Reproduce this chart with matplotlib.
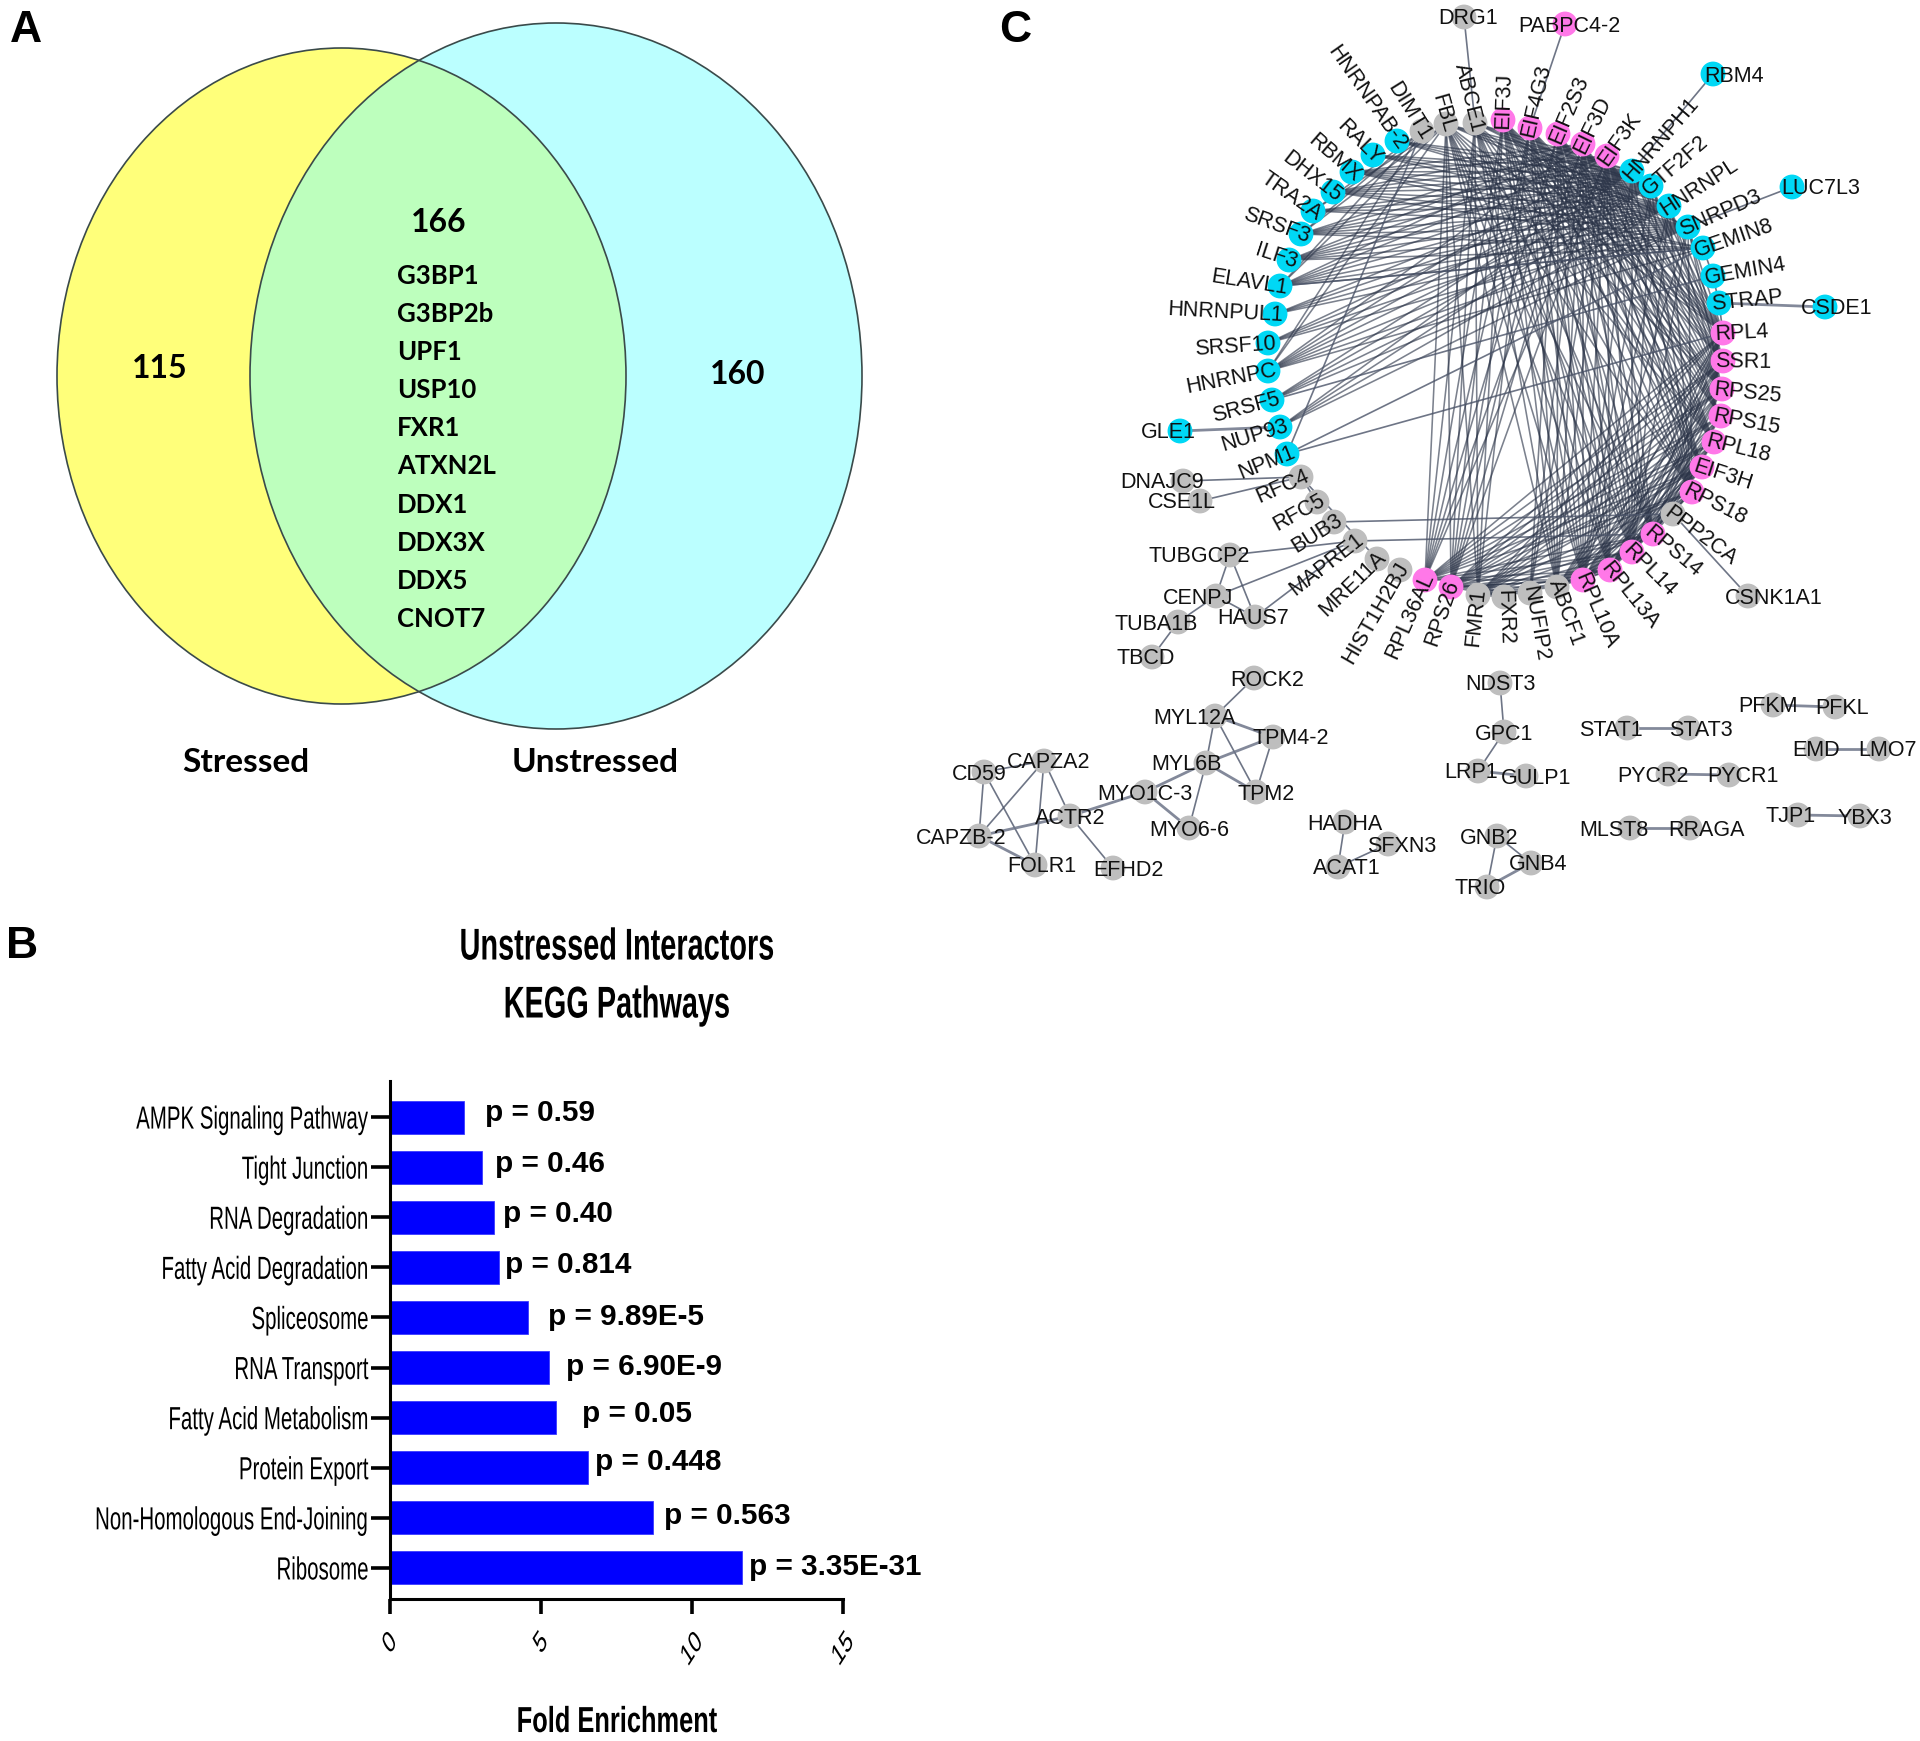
import matplotlib
matplotlib.use('Agg')
import matplotlib.pyplot as plt
import math
from matplotlib.patches import Ellipse
from matplotlib.patheffects import AbstractPathEffect
from matplotlib.transforms import Affine2D

SANS = ['Liberation Sans', 'DejaVu Sans']
VENN_FONT = ['Lato', 'DejaVu Sans']

W, H = 1920, 1741

# panel A
venn_counts = ['115', '166', '160']
venn_sets = ['Stressed', 'Unstressed']
venn_genes = ['G3BP1', 'G3BP2b', 'UPF1', 'USP10', 'FXR1', 'ATXN2L', 'DDX1', 'DDX3X', 'DDX5', 'CNOT7']

# panel B, top to bottom
pathways = ['AMPK Signaling Pathway', 'Tight Junction', 'RNA Degradation', 'Fatty Acid Degradation',
            'Spliceosome', 'RNA Transport', 'Fatty Acid Metabolism', 'Protein Export',
            'Non-Homologous End-Joining', 'Ribosome']
fold = [2.45, 3.04, 3.43, 3.60, 4.56, 5.27, 5.51, 6.57, 8.72, 11.64]
pvals = ['p = 0.59', 'p = 0.46', 'p = 0.40', 'p = 0.814', 'p = 9.89E-5',
         'p = 6.90E-9', 'p = 0.05', 'p = 0.448', 'p = 0.563', 'p = 3.35E-31']
p_label_x = [3.14, 3.47, 3.73, 3.82, 5.23, 5.82, 6.35, 6.80, 9.08, 11.90]
p_label_lift = [0.09, 0.066, 0.066, 0.04, 0.0, 0.02, 0.066, 0.115, 0.04, 0.02]

# panel C, node positions (pixels)
ring = {
    'ABCE1': (1475, 123), 'EIF3J': (1503, 120), 'EIF4G3': (1530, 128), 'EIF2S3': (1558, 134),
    'EIF3D': (1583, 144), 'EIF3K': (1607, 156), 'HNRNPH1': (1632, 171), 'GTF2F2': (1651, 186),
    'HNRNPL': (1669, 206), 'SNRPD3': (1688, 227), 'GEMIN8': (1703, 248), 'GEMIN4': (1713, 276),
    'STRAP': (1719, 303), 'RPL4': (1723, 333), 'SSR1': (1723, 361), 'RPS25': (1722, 389),
    'RPS15': (1721, 416), 'RPL18': (1714, 442), 'EIF3H': (1702, 467), 'RPS18': (1692, 492),
    'PPP2CA': (1673, 514), 'RPS14': (1653, 534), 'RPL14': (1632, 552), 'RPL13A': (1610, 570),
    'RPL10A': (1583, 580), 'ABCF1': (1557, 587), 'NUFIP2': (1530, 593), 'FXR2': (1504, 597),
    'FMR1': (1478, 595), 'RPS26': (1451, 587), 'RPL36AL': (1425, 580), 'HIST1H2BJ': (1400, 570),
    'MRE11A': (1377, 559), 'MAPRE1': (1355, 541), 'BUB3': (1334, 522), 'RFC5': (1317, 502),
    'RFC4': (1301, 477), 'NPM1': (1287, 454), 'NUP93': (1280, 427), 'SRSF5': (1272, 400),
    'HNRNPC': (1268, 371), 'SRSF10': (1268, 343), 'HNRNPUL1': (1275, 314), 'ELAVL1': (1280, 286),
    'ILF3': (1289, 260), 'SRSF3': (1301, 234), 'TRA2A': (1313, 211), 'DHX15': (1333, 192),
    'RBMX': (1352, 172), 'RALY': (1373, 155), 'HNRNPAB-2': (1397, 141), 'DIMT1': (1422, 131),
    'FBL': (1446, 124),
}
# text angle of the ring labels, degrees
ring_angle = {
    'ABCE1': -76, 'EIF3J': 88, 'EIF4G3': 77, 'EIF2S3': 67, 'EIF3D': 64, 'EIF3K': 55, 'HNRNPH1': 49,
    'GTF2F2': 41, 'HNRNPL': 33, 'SNRPD3': 24, 'GEMIN8': 19, 'GEMIN4': 10, 'STRAP': 6, 'RPL4': 3, 'SSR1': -1,
    'RPS25': -6, 'RPS15': -11, 'RPL18': -14, 'EIF3H': -18, 'RPS18': -27, 'PPP2CA': -37, 'RPS14': -40,
    'RPL14': -45, 'RPL13A': -51, 'RPL10A': -67, 'ABCF1': -70, 'NUFIP2': -80, 'FXR2': -88, 'FMR1': 84,
    'RPS26': 71, 'RPL36AL': 66, 'HIST1H2BJ': 60, 'MRE11A': 44, 'MAPRE1': 38, 'BUB3': 32, 'RFC5': 29,
    'RFC4': 24, 'NPM1': 22, 'NUP93': 17, 'SRSF5': 15, 'HNRNPC': 11, 'SRSF10': 4, 'HNRNPUL1': -3,
    'ELAVL1': -9, 'ILF3': -18, 'SRSF3': -20, 'TRA2A': -35, 'DHX15': -38, 'RBMX': -41, 'RALY': -45,
    'HNRNPAB-2': -55, 'DIMT1': -58, 'FBL': -74,
}
# labels that read away from the node towards the right
reads_outward = ['EIF3J', 'EIF4G3', 'EIF2S3', 'EIF3D', 'EIF3K', 'HNRNPH1', 'GTF2F2', 'HNRNPL', 'SNRPD3', 'GEMIN8',
                 'GEMIN4', 'STRAP', 'RPL4', 'SSR1', 'RPS25', 'RPS15', 'RPL18', 'EIF3H', 'RPS18', 'PPP2CA', 'RPS14',
                 'RPL14', 'RPL13A', 'RPL10A', 'ABCF1', 'NUFIP2', 'FXR2']
satellites = {
    'DRG1': (1464, 17), 'PABPC4-2': (1565, 24), 'RBM4': (1713, 74), 'LUC7L3': (1792, 187),
    'CSDE1': (1825, 307), 'GLE1': (1180, 431), 'DNAJC9': (1183, 481), 'CSE1L': (1200, 501),
    'CSNK1A1': (1748, 596), 'TUBGCP2': (1230, 555), 'CENPJ': (1216, 596), 'HAUS7': (1255, 617),
    'TUBA1B': (1178, 622), 'TBCD': (1152, 657), 'ROCK2': (1254, 678), 'MYL12A': (1215, 716),
    'TPM4-2': (1273, 737), 'MYL6B': (1206, 763), 'TPM2': (1256, 792), 'MYO1C-3': (1145, 792),
    'MYO6-6': (1189, 828), 'ACTR2': (1070, 816), 'CAPZA2': (1044, 761), 'CD59': (984, 772),
    'CAPZB-2': (979, 836), 'FOLR1': (1035, 865), 'EFHD2': (1113, 868), 'HADHA': (1345, 822),
    'SFXN3': (1388, 844), 'ACAT1': (1338, 867), 'NDST3': (1500, 683), 'GPC1': (1504, 732),
    'LRP1': (1478, 771), 'GULP1': (1526, 776), 'GNB2': (1497, 836), 'GNB4': (1531, 863),
    'TRIO': (1487, 887), 'STAT1': (1627, 728), 'STAT3': (1688, 728), 'PFKM': (1773, 705),
    'PFKL': (1835, 707), 'EMD': (1816, 749), 'LMO7': (1879, 749), 'PYCR2': (1668, 774),
    'PYCR1': (1729, 775), 'MLST8': (1630, 828), 'RRAGA': (1690, 828), 'TJP1': (1798, 815),
    'YBX3': (1860, 816),
}
# horizontal shift of the satellite labels relative to their node
label_shift = {
    'DRG1': 4, 'PABPC4-2': 4, 'RBM4': 21, 'LUC7L3': 29, 'CSDE1': 12, 'GLE1': -12, 'DNAJC9': -21,
    'CSE1L': -18, 'CSNK1A1': 26, 'TUBGCP2': -31, 'CENPJ': -18, 'HAUS7': -2, 'TUBA1B': -22, 'TBCD': -6,
    'ROCK2': 13, 'MYL12A': -21, 'TPM4-2': 18, 'MYL6B': -20, 'TPM2': 10, 'CAPZA2': 5, 'CD59': -5,
    'CAPZB-2': -18, 'FOLR1': 7, 'EFHD2': 15, 'SFXN3': 14, 'ACAT1': 9, 'LRP1': -7, 'GULP1': 10,
    'GNB2': -8, 'GNB4': 7, 'TRIO': -7, 'STAT1': -16, 'STAT3': 13, 'PFKM': -5, 'PFKL': 7, 'LMO7': 8,
    'PYCR2': -15, 'PYCR1': 14, 'MLST8': -16, 'RRAGA': 16, 'TJP1': -7, 'YBX3': 5,
}

cyan_nodes = ['HNRNPH1', 'GTF2F2', 'HNRNPL', 'SNRPD3', 'GEMIN8', 'GEMIN4', 'STRAP', 'NPM1', 'NUP93', 'SRSF5',
              'HNRNPC', 'SRSF10', 'HNRNPUL1', 'ELAVL1', 'ILF3', 'SRSF3', 'TRA2A', 'DHX15', 'RBMX', 'RALY',
              'HNRNPAB-2', 'RBM4', 'LUC7L3', 'CSDE1', 'GLE1']
pink_nodes = ['EIF3J', 'EIF4G3', 'EIF2S3', 'EIF3D', 'EIF3K', 'RPL4', 'SSR1', 'RPS25', 'RPS15', 'RPL18', 'EIF3H',
              'RPS18', 'RPS14', 'RPL14', 'RPL13A', 'RPL10A', 'RPS26', 'RPL36AL', 'PABPC4-2']

left_rna = ['HNRNPAB-2', 'RALY', 'RBMX', 'DHX15', 'TRA2A', 'SRSF3', 'ILF3', 'ELAVL1', 'HNRNPUL1',
            'SRSF10', 'HNRNPC', 'SRSF5', 'NUP93']
right_rna = ['HNRNPH1', 'GTF2F2', 'HNRNPL', 'SNRPD3']
top_eif = ['EIF3J', 'EIF4G3', 'EIF2S3', 'EIF3D', 'EIF3K']
top_grey = ['ABCE1', 'FBL']
ribo_right = ['RPL4', 'SSR1', 'RPS25', 'RPS15', 'RPL18', 'EIF3H', 'RPS18']
ribo_low = ['RPS14', 'RPL14', 'RPL13A', 'RPL10A']
ribo_base = ['RPS26', 'RPL36AL']

# dense module: every name on the left interacts with every name on the right
edge_blocks = [
    (left_rna, right_rna),
    (['RBMX', 'DHX15', 'SRSF3', 'ILF3', 'ELAVL1', 'HNRNPC'], ['EIF3K', 'EIF3D', 'GEMIN8']),
    (['FBL', 'DIMT1'], ['SRSF3', 'ELAVL1', 'HNRNPC', 'TRA2A']),
    (top_eif, ribo_right),
    (top_eif, ribo_low),
    (top_eif, ribo_base),
    (top_grey, ['RPL4', 'RPS25', 'RPL18', 'RPS18']),
    (top_grey, ribo_low),
    (top_grey, ribo_base),
    (top_grey, right_rna),
    (['EIF3J', 'ABCE1', 'FBL', 'EIF4G3'], ['FMR1', 'ABCF1']),
    (['EIF2S3', 'EIF3D', 'EIF3K'], ['ABCF1', 'NUFIP2']),
    (right_rna, ['RPL4', 'SSR1', 'RPS25', 'RPL14', 'RPL10A', 'RPS18']),
    (ribo_right, ribo_base),
    (ribo_right, ['FMR1', 'ABCF1']),
    (ribo_right, ribo_low),
    (ribo_low, ribo_base),
    (['RPS14', 'RPL14', 'RPL13A'], ['FMR1', 'ABCF1', 'RPL10A']),
    (['RPS26', 'FMR1'], ['ABCF1', 'FXR2', 'NUFIP2', 'RPL10A']),
]
edges_thin = [
    ('DRG1', 'ABCE1'), ('PABPC4-2', 'EIF4G3'), ('RBM4', 'HNRNPH1'), ('LUC7L3', 'SNRPD3'),
    ('GEMIN8', 'GEMIN4'), ('GEMIN4', 'STRAP'), ('GEMIN8', 'ELAVL1'), ('GEMIN4', 'SRSF5'), ('STRAP', 'RPL4'),
    ('NPM1', 'RPL4'), ('NPM1', 'DIMT1'), ('NPM1', 'GEMIN8'), ('DNAJC9', 'RFC4'), ('CSE1L', 'RFC4'), ('RFC4', 'RFC5'),
    ('RFC4', 'MRE11A'), ('BUB3', 'PPP2CA'), ('MAPRE1', 'RPS14'), ('PPP2CA', 'CSNK1A1'),
    ('TUBGCP2', 'MAPRE1'), ('CENPJ', 'MAPRE1'), ('HAUS7', 'MAPRE1'), ('TUBGCP2', 'CENPJ'),
    ('TUBGCP2', 'HAUS7'), ('CENPJ', 'HAUS7'), ('CENPJ', 'TUBA1B'), ('TUBA1B', 'TBCD'),
    ('ROCK2', 'MYL12A'), ('MYL12A', 'MYL6B'), ('MYL12A', 'TPM2'), ('TPM4-2', 'TPM2'),
    ('MYL6B', 'MYO6-6'), ('ACTR2', 'CAPZA2'), ('ACTR2', 'EFHD2'), ('CAPZA2', 'CD59'),
    ('CAPZA2', 'CAPZB-2'), ('CAPZA2', 'FOLR1'), ('CD59', 'CAPZB-2'), ('CD59', 'FOLR1'),
    ('HADHA', 'ACAT1'), ('SFXN3', 'ACAT1'), ('NDST3', 'GPC1'), ('GPC1', 'LRP1'), ('GNB2', 'GNB4'),
    ('GNB2', 'TRIO'),
]
edges_thick = [
    ('CSDE1', 'STRAP'), ('GLE1', 'NUP93'), ('MYL12A', 'TPM4-2'), ('MYL6B', 'TPM4-2'), ('MYL6B', 'TPM2'),
    ('MYL6B', 'MYO1C-3'), ('MYO1C-3', 'MYO6-6'), ('MYO1C-3', 'ACTR2'), ('ACTR2', 'CAPZB-2'),
    ('CAPZB-2', 'FOLR1'), ('LRP1', 'GULP1'), ('GNB4', 'TRIO'), ('STAT1', 'STAT3'), ('PFKM', 'PFKL'),
    ('EMD', 'LMO7'), ('PYCR2', 'PYCR1'), ('MLST8', 'RRAGA'), ('TJP1', 'YBX3'),
]


class Squeeze(AbstractPathEffect):
    # panel B of the figure is squashed sideways, no narrow font is installed
    def __init__(self, x, factor, dx=0):
        super().__init__()
        self.x = x
        self.factor = factor
        self.dx = dx

    def draw_path(self, renderer, gc, tpath, affine, rgbFace=None):
        squash = Affine2D().translate(-self.x, 0).scale(self.factor, 1).translate(self.x + self.dx, 0)
        renderer.draw_path(gc, tpath, affine + squash, rgbFace)


fig = plt.figure(figsize=(W / 100, H / 100), dpi=100, facecolor='white')
page = fig.add_axes([0, 0, 1, 1])
page.set_xlim(0, W)
page.set_ylim(H, 0)
page.axis('off')

# panel letters
for letter, lx, ly in [('A', 26, 30), ('B', 22, 947), ('C', 1015, 30)]:
    page.text(lx, ly, letter, family=SANS, fontsize=32, fontweight='bold', ha='center', va='center')

# ---- A: venn
left_xy, left_w, left_h = (341.5, 376), 569, 656
right_xy, right_w, right_h = (556, 376), 612, 706
page.add_patch(Ellipse(left_xy, left_w, left_h, fc='#FFFF7A', ec='none'))
right = Ellipse(right_xy, right_w, right_h, fc='#BBFFFF', ec='none')
page.add_patch(right)
both = Ellipse(left_xy, left_w, left_h, fc='#BDFFBD', ec='none')
page.add_patch(both)
both.set_clip_path(right)
page.add_patch(Ellipse(left_xy, left_w, left_h, fc='none', ec='#3a4a4a', lw=1.2))
page.add_patch(Ellipse(right_xy, right_w, right_h, fc='none', ec='#3a4a4a', lw=1.2))

for txt, tx, ty in zip(venn_counts, [160, 439, 738], [369, 222, 375]):
    page.text(tx, ty, txt, family=VENN_FONT, fontsize=23, fontweight='bold', ha='center', va='center')
for i, gene in enumerate(venn_genes):
    page.text(397, 275.5 + i * 38.2, gene, family=VENN_FONT, fontsize=18.5, fontweight='bold', ha='left', va='center')
for txt, tx in zip(venn_sets, [246, 595]):
    page.text(tx, 762, txt, family=VENN_FONT, fontsize=24, fontweight='bold', ha='center', va='center')

# ---- B: bars
ax = fig.add_axes([390 / W, 1 - 1599 / H, 453 / W, 518 / H])
ypos = list(range(len(pathways)))[::-1]
ax.barh(ypos, fold, height=0.66, color='#0000FF', edgecolor='#3a3aff', linewidth=0.6)
for y, px, lift, lab in zip(ypos, p_label_x, p_label_lift, pvals):
    ax.text(px, y + lift, lab, family=SANS, fontsize=21.3, fontweight='bold', ha='left', va='center', clip_on=False)
ax.set_xlim(0, 15)
ax.set_ylim(-0.62, 9.72)
ax.set_yticks(ypos)
ax.set_yticklabels(pathways, family=SANS, fontsize=23)
ax.set_xticks([0, 5, 10, 15])
ax.set_xticklabels(['0', '5', '10', '15'], family=SANS, fontsize=22, rotation=45, ha='center')
ax.tick_params(axis='y', length=14, width=2.6, pad=1)
ax.tick_params(axis='x', length=11, width=2.6, pad=9)
for lab in ax.get_yticklabels():
    lab.set_path_effects([Squeeze(368, 0.64)])
# the longest label is laid out further right so its unsquashed box stays on the page
long_label = pathways.index('Non-Homologous End-Joining')
ax.yaxis.get_major_ticks()[long_label].set_pad(-49.4)
ax.get_yticklabels()[long_label].set_path_effects([Squeeze(438, 0.64, dx=-70)])
for lab, tx in zip(ax.get_xticklabels(), [0, 5, 10, 15]):
    lab.set_path_effects([Squeeze(390 + tx * 30.2, 0.64)])
for side in ['top', 'right']:
    ax.spines[side].set_visible(False)
for side in ['left', 'bottom']:
    ax.spines[side].set_linewidth(2.2)
ax.patch.set_alpha(0)

for txt, ty, size, squash in [('Unstressed Interactors', 948, 32, 0.65), ('KEGG Pathways', 1006, 32, 0.65)]:
    title = page.text(617, ty, txt, family=SANS, fontsize=size, fontweight='bold', ha='center', va='center')
    title.set_path_effects([Squeeze(617, squash)])
xlab = page.text(617, 1732, 'Fold Enrichment', family=SANS, fontsize=26, fontweight='bold', ha='center', va='baseline')
xlab.set_path_effects([Squeeze(617, 0.704)])

# ---- C: network
layout = {**ring, **satellites}


def draw_edge(a, b, lw, color, alpha):
    page.plot([layout[a][0], layout[b][0]], [layout[a][1], layout[b][1]],
              color=color, lw=lw, alpha=alpha, zorder=2, solid_capstyle='round')


for names_a, names_b in edge_blocks:
    for a in names_a:
        for b in names_b:
            draw_edge(a, b, 1.15, '#2b3448', 0.62)
for a, b in edges_thin:
    draw_edge(a, b, 1.2, '#4a5368', 0.8)
for a, b in edges_thick:
    draw_edge(a, b, 2.0, '#6d7589', 0.85)

names = list(layout)
colors = ['#00D8F5' if n in cyan_nodes else '#FF78E8' if n in pink_nodes else '#BEBEBE' for n in names]
page.scatter([layout[n][0] for n in names], [layout[n][1] for n in names], s=320, c=colors,
             linewidths=0, zorder=3)

for n, (nx, ny) in ring.items():
    rot = math.radians(ring_angle[n])
    if n in reads_outward:
        ox, oy, ha = nx - 8 * math.cos(rot), ny + 8 * math.sin(rot), 'left'
    else:
        ox, oy, ha = nx + 8 * math.cos(rot), ny - 8 * math.sin(rot), 'right'
    page.text(ox, oy + 1, n, family=SANS, fontsize=15.5, color='#111111', rotation=ring_angle[n],
              rotation_mode='anchor', ha=ha, va='center', zorder=4)
for n, (nx, ny) in satellites.items():
    page.text(nx + label_shift.get(n, 0), ny + 2, n, family=SANS, fontsize=15.5, color='#111111',
              ha='center', va='center', zorder=4)

fig.savefig('out.png', dpi=100)
